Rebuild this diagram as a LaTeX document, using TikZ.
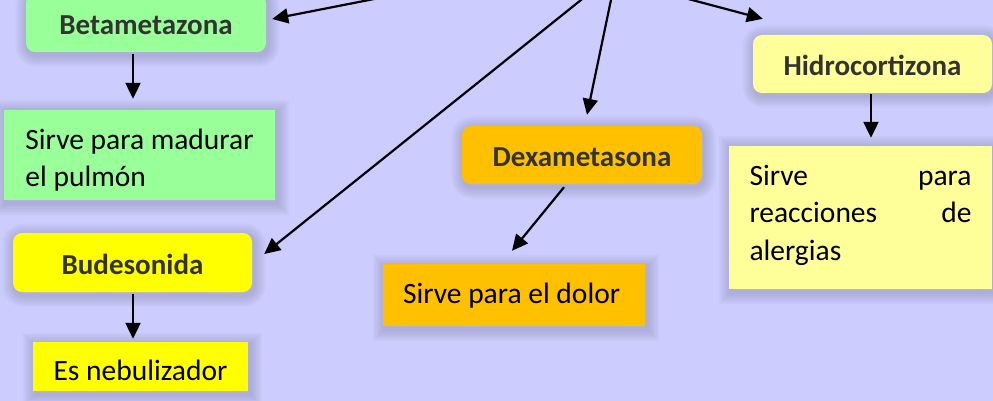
\documentclass[tikz,border=0pt]{standalone}
\usepackage{fontspec}
\setmainfont{Carlito}
\usetikzlibrary{arrows.meta,calc}
\definecolor{bg}{HTML}{CCCCFF}
\definecolor{cgreen}{HTML}{99FF99}
\definecolor{cyellow}{HTML}{FFFF00}
\definecolor{corange}{HTML}{FFC000}
\definecolor{clight}{HTML}{FFFF99}
\definecolor{ctitle}{HTML}{333333}
\definecolor{cglow}{HTML}{646482}
\tikzset{
  glowring/.style={preaction={draw=cglow, draw opacity=0.05, line width=#1,
      transform canvas={xshift=1.5pt,yshift=-2.5pt}}},
  box/.style={draw=none, inner sep=0pt,
    glowring=24pt, glowring=20pt, glowring=16pt, glowring=12pt, glowring=8pt, glowring=4pt},
  titlebox/.style={box, rounded corners=9pt, font=\bfseries\fontsize{29}{36}\selectfont, text=ctitle,
    text height=23pt, text depth=0pt},
  bodybox/.style={box, font=\fontsize{29.5}{37.5}\selectfont, text=black},
  conn/.style={-{Triangle[length=16pt,width=15pt]}, line width=2.2pt, black},
}
\begin{document}
\begin{tikzpicture}[x=1pt,y=-1pt]
\clip (0,0) rectangle (993,401);
\fill[bg] (0,0) rectangle (993,401);

% title nodes
\node[titlebox, fill=cgreen, minimum width=240pt, minimum height=58pt] (bet) at (146,23) {Betametazona};
\node[titlebox, fill=cyellow, minimum width=239pt, minimum height=59pt] (bud) at (132.5,262.5) {Budesonida};
\node[titlebox, fill=corange, minimum width=240pt, minimum height=58pt] (dexa) at (582,155) {Dexametasona};
\node[titlebox, fill=clight, minimum width=239pt, minimum height=58pt] (hidro) at (872.5,64) {Hidrocortizona};

% description nodes
\node[bodybox, fill=cgreen, minimum width=271pt, minimum height=90pt, align=left] (mad) at (139.5,155)
  {\rule{0pt}{34pt}Sirve para madurar\\el pulmón\rule[-8pt]{0pt}{8pt}};
\node[bodybox, fill=cyellow, minimum width=215pt, minimum height=49pt, text height=27pt, text depth=0pt] (neb) at (140.5,366.5)
  {Es nebulizador};
\node[bodybox, fill=corange, minimum width=262pt, minimum height=62pt, text height=22pt, text depth=6pt] (dolor) at (514,295)
  {\hbox to 222pt{Sirve para el dolor\hfill}};
\node[bodybox, fill=clight, minimum width=263pt, minimum height=143pt, align=left] (alerg) at (860.5,217.5)
  {\rule{0pt}{22pt}\hbox to 222pt{Sirve\hfill para}\\\hbox to 222pt{reacciones\hfill de}\\alergias\rule[-12pt]{0pt}{12pt}};

% sources of the connectors (the main node lies above the picture)
\coordinate (s1) at (394.5,-5);
\coordinate (s2) at (587.2,-5);
\coordinate (s3) at (612,-5);
\coordinate (s4) at (673.3,-5);

\draw[conn] (s1) -- ($(bet.east)+(6,-4)$);
\draw[conn] (s2) -- ($(bud.east)+(12,-8.5)$);
\draw[conn] (s3) -- ($(dexa.north)+(5,-11)$);
\draw[conn] (s4) -- ($(hidro.north west)+(10,-16)$);

\draw[conn] ($(bet.south)+(-13,2)$) -- ($(mad.north)+(-6.5,-11)$);
\draw[conn] ($(hidro.south)+(-1.5,1)$) -- ($(alerg.north)+(10.5,-8)$);
\draw[conn] ($(bud.south)+(0.5,2)$) -- ($(neb.north)+(-7.5,-3)$);
\draw[conn] ($(dexa.south)+(-18,3)$) -- ($(dolor.north)+(-2,-13)$);
\end{tikzpicture}
\end{document}
